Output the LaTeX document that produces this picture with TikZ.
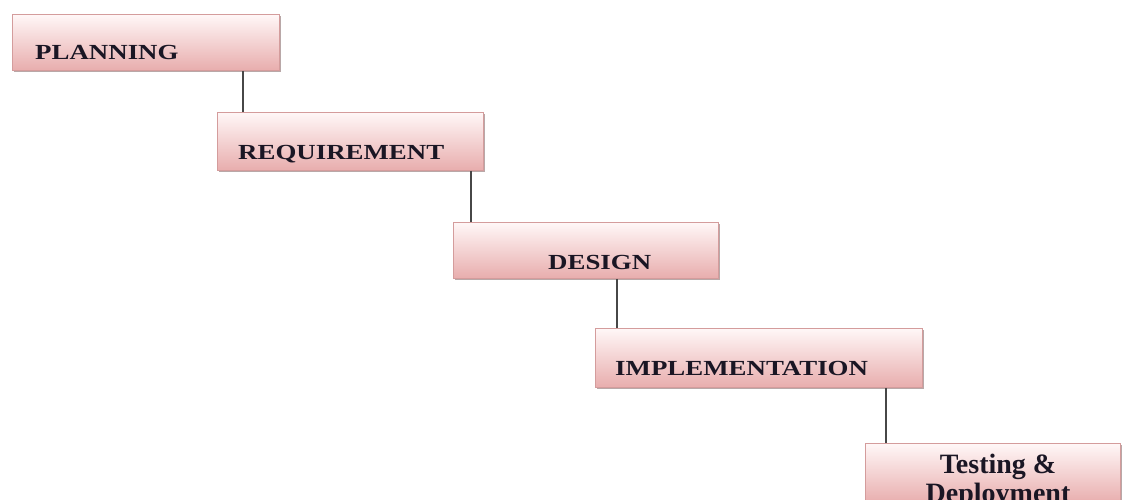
\documentclass[tikz,border=0pt]{standalone}
\usepackage{fontspec}
\setmainfont{Liberation Serif}
\newfontfamily\stagefont[FakeStretch=1.25]{Liberation Serif}
\usepackage{tikz}
\usetikzlibrary{positioning, shadows}
\tikzset{>=stealth}
\usepackage{xcolor}
\definecolor{stagepink}{HTML}{E8ADAD}
\definecolor{stagetop}{HTML}{FFF7F7}
\definecolor{stageline}{HTML}{D49C9C}
\definecolor{stageshade}{HTML}{A89292}
\definecolor{stagetext}{HTML}{1A1624}

\tikzset{
  stage/.style={draw=stageline, line width=0.8pt, top color=stagetop, bottom color=stagepink,
    anchor=north west, inner sep=0pt, minimum height=57pt,
    drop shadow={shadow xshift=2pt, shadow yshift=-2pt, fill=stageshade, opacity=0.8}},
  stagename/.style={anchor=base west, inner sep=0pt, text=stagetext,
    font=\stagefont\bfseries\fontsize{21.5}{25}\selectfont},
  link/.style={line width=2pt, draw=black!72}
}

\begin{document}
\begin{tikzpicture}[x=1pt, y=-1pt]
			\useasboundingbox (0,0) rectangle (1126,499);
			\clip (0,0) rectangle (1126,499);
			% the five phases
			\node[stage, minimum width=267pt, minimum height=56pt] (plan) at (12,14) {};
			\node[stage, minimum width=266pt, minimum height=58pt] (req) at (217,112) {};
			\node[stage, minimum width=265pt, minimum height=56pt] (design) at (453,222) {};
			\node[stage, minimum width=327pt, minimum height=59pt] (impl) at (595,328) {};
			\node[stage, minimum width=255pt, minimum height=60pt] (test) at (865,443) {};
			% names
			\node[stagename] (plan-t) at ([shift={(23,45)}]plan.north west) {PLANNING};
			\node[stagename] (req-t) at ([shift={(21,47)}]req.north west) {REQUIREMENT};
			\node[stagename] (design-t) at ([shift={(95,47)}]design.north west) {DESIGN};
			\node[stagename] (impl-t) at ([shift={(20,47)}]impl.north west) {IMPLEMENTATION};
			\node[stagename, anchor=base, align=center, font=\bfseries\fontsize{28}{29}\selectfont] (test-t) at (998,502) {Testing \&\\Deployment};
			% steps down
			\draw[link] (plan.south -| 243,0) -- (req.north -| 243,0);
			\draw[link] (req.south -| 471,0) -- (design.north -| 471,0);
			\draw[link] (design.south -| 617,0) -- (impl.north -| 617,0);
			\draw[link] (impl.south -| 886,0) -- (test.north -| 886,0);
		\end{tikzpicture}
\end{document}
